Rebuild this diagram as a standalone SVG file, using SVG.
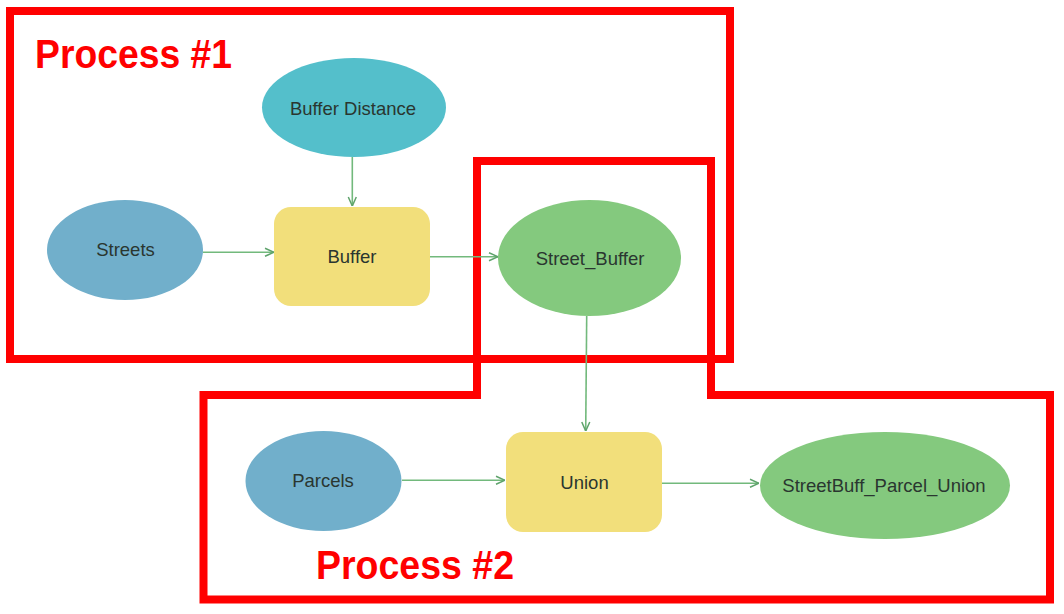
<svg xmlns="http://www.w3.org/2000/svg" width="1064" height="614" viewBox="0 0 1064 614">
<style>
.lbl{font-family:"Liberation Sans",Arial,sans-serif;font-size:18.5px;fill:#2a3630;text-anchor:middle}
.proc{font-family:"Liberation Sans",Arial,sans-serif;font-weight:bold;font-size:40px;fill:#ff0000}
.frame{fill:none;stroke:#ff0000;stroke-width:8}
.edge{stroke:#72b97c;stroke-width:1.6;fill:none;marker-end:url(#arr)}
.input{fill:#71afcb}
.param{fill:#54bfcb}
.tool{fill:#f2df7b}
.out{fill:#84c97e}
</style>
<defs>
<marker id="arr" viewBox="0 0 10 10" refX="10" refY="5" markerWidth="10" markerHeight="10" markerUnits="userSpaceOnUse" orient="auto">
<path d="M1,1 L10,5 L1,9" fill="none" stroke="#5fa36c" stroke-width="1.5"/>
</marker>
</defs>
<rect width="1064" height="614" fill="#ffffff"/>

<g id="process1">
<rect class="frame" x="10" y="11" width="720" height="348"/>
<text class="proc" x="35" y="68" textLength="197" lengthAdjust="spacingAndGlyphs">Process #1</text>
</g>
<g id="process2">
<polygon class="frame" points="477,161 711,161 711,395 1050,395 1050,599.5 203.5,599.5 203.5,395 477,395"/>
<text class="proc" x="316" y="579" textLength="198" lengthAdjust="spacingAndGlyphs">Process #2</text>
</g>

<g id="connectors">
<line class="edge" x1="352.3" y1="157" x2="352.3" y2="206"/>
<line class="edge" x1="203" y1="252.3" x2="274" y2="252.3"/>
<line class="edge" x1="430" y1="256.7" x2="498" y2="256.7"/>
<line class="edge" x1="586.7" y1="316" x2="585.7" y2="431"/>
<line class="edge" x1="402" y1="480.3" x2="505" y2="480.3"/>
<line class="edge" x1="662" y1="483.3" x2="759" y2="483.3"/>
</g>

<g id="buffer-distance">
<ellipse class="param" cx="354" cy="107.5" rx="92" ry="49.5"/>
<text class="lbl" x="353" y="115">Buffer Distance</text>
</g>
<g id="streets">
<ellipse class="input" cx="125" cy="250" rx="78" ry="50"/>
<text class="lbl" x="125.5" y="256">Streets</text>
</g>
<g id="buffer">
<rect class="tool" x="274" y="207" width="156" height="99" rx="17"/>
<text class="lbl" x="352" y="263">Buffer</text>
</g>
<g id="street-buffer">
<ellipse class="out" cx="589.5" cy="258" rx="91.5" ry="58"/>
<text class="lbl" x="590" y="264.5">Street_Buffer</text>
</g>
<g id="parcels">
<ellipse class="input" cx="323.5" cy="481" rx="78" ry="50"/>
<text class="lbl" x="323" y="487">Parcels</text>
</g>
<g id="union">
<rect class="tool" x="506" y="432" width="156" height="100" rx="17"/>
<text class="lbl" x="584.5" y="489">Union</text>
</g>
<g id="streetbuff-parcel-union">
<ellipse class="out" cx="885" cy="485.5" rx="125" ry="53.5"/>
<text class="lbl" x="884" y="491.5">StreetBuff_Parcel_Union</text>
</g>
</svg>
